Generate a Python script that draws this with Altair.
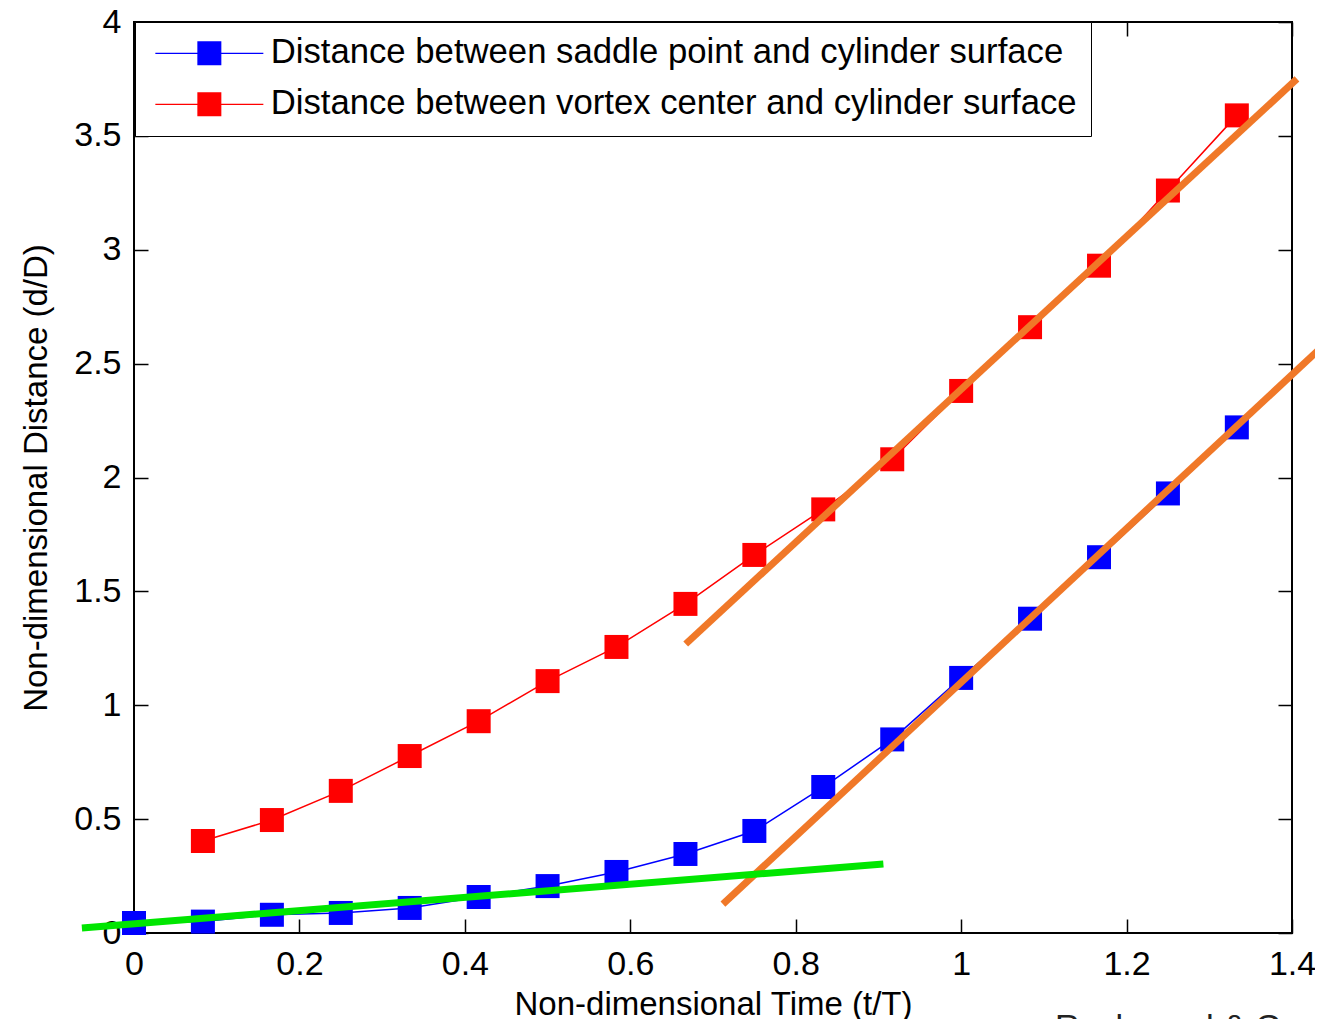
import altair as alt
import pandas as pd

# ---- data ----
t = [0.0, 0.0833, 0.1667, 0.25, 0.3333, 0.4167, 0.5, 0.5833, 0.6667, 0.75,
     0.8333, 0.9167, 1.0, 1.0833, 1.1667, 1.25, 1.3333]
saddle = [0.044, 0.05, 0.08, 0.088, 0.11, 0.158, 0.206, 0.268, 0.347, 0.448,
          0.641, 0.85, 1.12, 1.38, 1.65, 1.93, 2.22]
vortex_t = [0.0833, 0.1667, 0.25, 0.3333, 0.4167, 0.5, 0.5833, 0.6667, 0.75,
            0.8333, 0.9167, 1.0, 1.0833, 1.1667, 1.25, 1.3333]
vortex = [0.404, 0.496, 0.624, 0.777, 0.93, 1.106, 1.256, 1.445, 1.66,
          1.86, 2.08, 2.38, 2.66, 2.93, 3.26, 3.59]

series_names = ["Distance between saddle point and cylinder surface",
                "Distance between vortex center and cylinder surface"]
series_colors = ["#0000ff", "#ff0000"]

# hand-drawn fit lines (two orange, one green)
fit_ids = ["orange_upper", "orange_upper", "orange_lower", "orange_lower", "green", "green"]
fit_x = [0.667, 1.406, 0.712, 1.438, -0.063, 0.906]
fit_y = [1.269, 3.75, 0.127, 2.58, 0.022, 0.303]
fit_colors = ["#f07828", "#f07828", "#f07828", "#f07828", "#00e600", "#00e600"]

x_ticks = [0, 0.2, 0.4, 0.6, 0.8, 1.0, 1.2, 1.4]
y_ticks = [0, 0.5, 1.0, 1.5, 2.0, 2.5, 3.0, 3.5, 4.0]

x_title = "Non-dimensional Time (t/T)"
y_title = "Non-dimensional Distance (d/D)"
credit = "Rockwood & Green"

# ---- tables ----
df_pts = pd.concat([
    pd.DataFrame({"t": t, "d": saddle, "series": series_names[0]}),
    pd.DataFrame({"t": vortex_t, "d": vortex, "series": series_names[1]}),
], ignore_index=True)
df_fit = pd.DataFrame({"t": fit_x, "d": fit_y, "fid": fit_ids, "fc": fit_colors})

FONT = "Liberation Sans"
xscale = alt.Scale(domain=[0, 1.4], nice=False, zero=False)
yscale = alt.Scale(domain=[0, 4], nice=False, zero=False)
cscale = alt.Scale(domain=series_names, range=series_colors)

legend_symbol = "M-4.5,-0.06H4.5V0.06H-4.5Z M-1,-1H1V1H-1Z"

main_x_axis = alt.Axis(orient="bottom", values=x_ticks, format="~g", offset=-14,
                       tickSize=14, domain=False, grid=False, labelPadding=14,
                       labelFlush=False, title=x_title, titlePadding=7)
main_y_axis = alt.Axis(orient="left", values=y_ticks, format="~g", offset=-14,
                       tickSize=14, domain=False, grid=False, labelPadding=13,
                       title=y_title, titlePadding=20)
top_axis = alt.Axis(orient="top", values=x_ticks, labels=False, offset=-14,
                    tickSize=14, domain=False, grid=False, title=None)
right_axis = alt.Axis(orient="right", values=y_ticks, labels=False, offset=-14,
                      tickSize=14, domain=False, grid=False, title=None)

mirror = alt.Chart(df_pts).mark_point(opacity=0).encode(
    x=alt.X("t:Q", scale=xscale, axis=top_axis),
    y=alt.Y("d:Q", scale=yscale, axis=right_axis),
)

lines = alt.Chart(df_pts).mark_line(strokeWidth=1.5).encode(
    x=alt.X("t:Q", scale=xscale, axis=None),
    y=alt.Y("d:Q", scale=yscale, axis=None),
    color=alt.Color("series:N", scale=cscale),
)

points = alt.Chart(df_pts).mark_point(shape="square", filled=True, size=576, opacity=1).encode(
    x=alt.X("t:Q", scale=xscale, axis=main_x_axis),
    y=alt.Y("d:Q", scale=yscale, axis=main_y_axis),
    color=alt.Color("series:N", scale=cscale, legend=alt.Legend(
        title=None, orient="none", legendX=1, legendY=0, direction="vertical",
        symbolType=legend_symbol, symbolSize=576, symbolStrokeWidth=0,
        symbolOffset=43, labelOffset=44, padding=14, rowPadding=15,
        labelFont=FONT, labelFontSize=34.7, labelLimit=2000, labelColor="black",
        fillColor="white", strokeColor="black")),
)

fits = alt.Chart(df_fit).mark_line(strokeWidth=7).encode(
    x=alt.X("t:Q", scale=xscale, axis=None),
    y=alt.Y("d:Q", scale=yscale, axis=None),
    stroke=alt.Stroke("fc:N", scale=None, legend=None),
    detail="fid:N",
)

chart = alt.layer(mirror, lines, points, fits).resolve_axis(
    x="independent", y="independent"
).properties(
    width=1158, height=911,
    background="white",
    autosize=alt.AutoSizeParams(type="none"),
    padding={"left": 126, "top": 14, "right": 23, "bottom": 86},
    title=alt.TitleParams(credit, orient="bottom", anchor="start", frame="group",
                          dx=921, offset=-10, fontSize=34, font=FONT,
                          fontWeight="normal", color="#222222"),
).configure_view(
    stroke="black", strokeWidth=2
).configure_axis(
    labelFont=FONT, labelFontSize=34, labelColor="black",
    titleFont=FONT, titleFontSize=33, titleFontWeight="normal", titleColor="black",
    tickColor="black", tickWidth=1.5,
)

chart.save("out.html", embed_options={"renderer": "svg", "actions": False})
